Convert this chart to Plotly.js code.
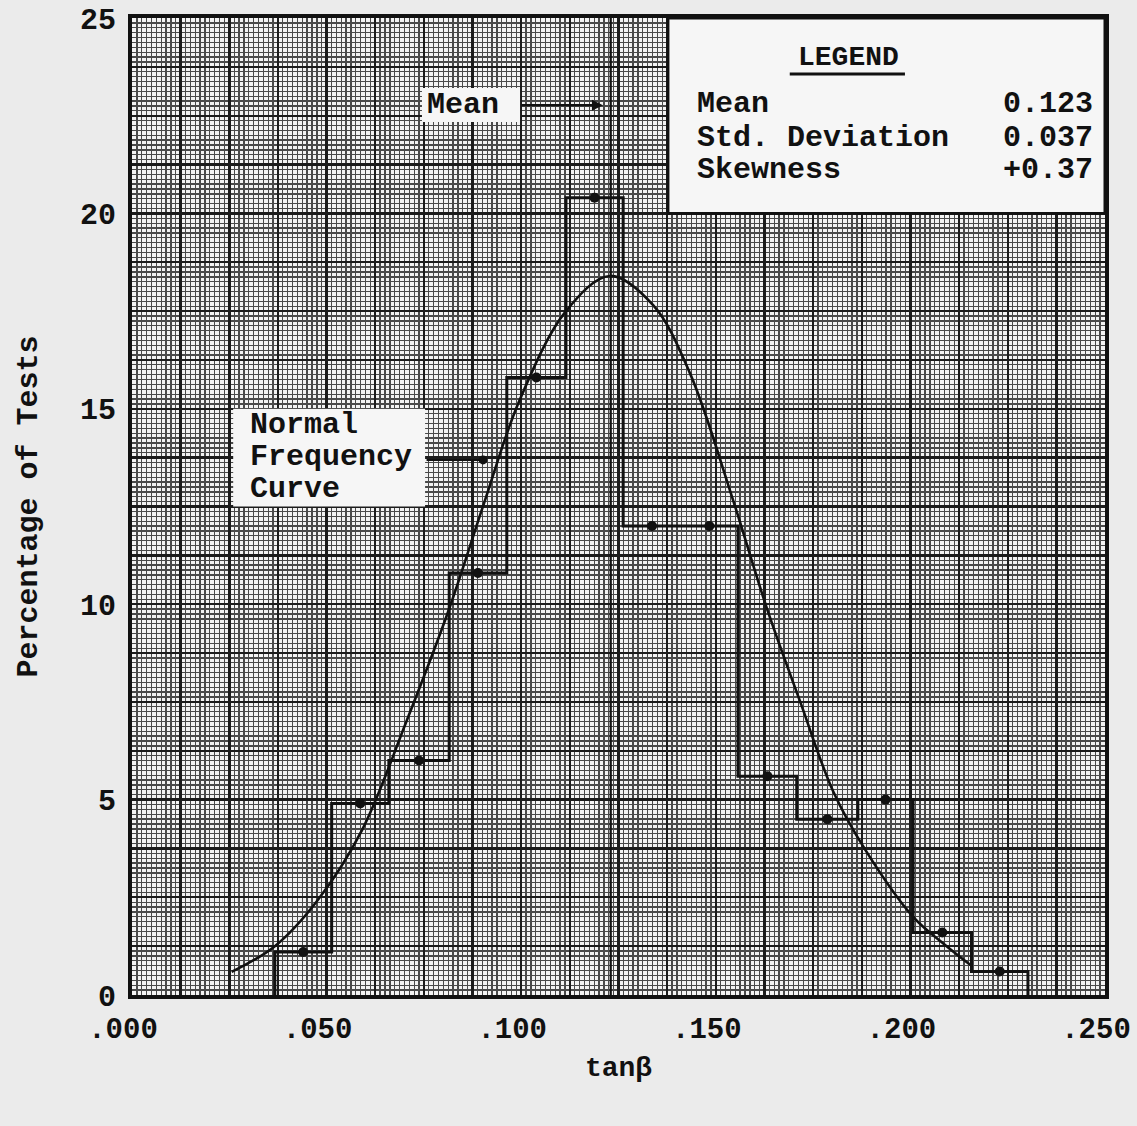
<!DOCTYPE html>
<html>
<head>
<meta charset="utf-8">
<script src="https://cdn.plot.ly/plotly-3.0.1.min.js"></script>
<style>
  html, body { margin: 0; padding: 0; background: #ebebeb; }
  #chart { width: 1137px; height: 1126px; }
</style>
</head>
<body>
<div id="chart"></div>
<script>
// ---- data ----
const binEdges = [0.0367, 0.0513, 0.066, 0.0815, 0.0963, 0.1115, 0.1262, 0.141, 0.1557, 0.1708, 0.1865, 0.2007, 0.2157, 0.2302];
const pctTests = [1.1, 4.9, 6.0, 10.8, 15.8, 20.4, 12.0, 12.0, 5.6, 4.5, 5.0, 1.6, 0.6];

const curveX = [0.0256, 0.0367, 0.0475, 0.059, 0.0705, 0.0812, 0.0905, 0.0995, 0.1115, 0.1228, 0.1339, 0.1434, 0.154, 0.1631, 0.1717, 0.1802, 0.1885, 0.2007, 0.2093, 0.2157];
const curveY = [0.59, 1.25, 2.4, 4.2, 7.0, 9.8, 12.6, 15.2, 17.5, 18.4, 17.65, 15.9, 12.8, 9.9, 7.5, 5.2, 3.7, 2.0, 1.25, 0.75];

const meanValue = 0.123;
const legendLabels = ["Mean", "Std. Deviation", "Skewness"];
const legendValues = ["0.123", "0.037", "+0.37"];
const curveLabelLines = ["Normal", "Frequency", "Curve"];

const xTickVals = [0, 0.05, 0.10, 0.15, 0.20, 0.25];
const xTickText = [".000", ".050", ".100", ".150", ".200", ".250"];
const yTickVals = [0, 5, 10, 15, 20, 25];
const yTickText = ["0", "5", "10", "15", "20", "25"];

// ---- build helpers ----
const FONT = "Liberation Mono, Courier New, monospace";
const INK = "#111";
const BOXFILL = "#f6f6f6";

// step outline of the histogram
const stepX = [binEdges[0]].concat(binEdges);
const stepY = [0].concat(pctTests, [0]);
// dots at bin centres
const midX = pctTests.map((v, i) => (binEdges[i] + binEdges[i + 1]) / 2);

// graph-paper grid: heavy lines every 1/20 of the range, fine lines every 1/200
function gridTicks(vals, texts, range) {
  const tv = [], tt = [], mv = [];
  for (let i = 0; i <= 200; i++) {
    const v = range * i / 200;
    if (i % 10 === 0) {
      tv.push(v);
      const k = vals.findIndex(u => Math.abs(u - v) < 1e-9);
      tt.push(k >= 0 ? texts[k] : "");
    } else {
      mv.push(v);
    }
  }
  return { tv, tt, mv };
}
const xg = gridTicks(xTickVals, xTickText, 0.25);
const yg = gridTicks(yTickVals, yTickText, 25);

const traces = [
  {
    x: [meanValue, meanValue], y: [0, 25], mode: "lines",
    line: { color: INK, width: 2.2 }, hoverinfo: "skip", showlegend: false
  },
  {
    x: stepX, y: stepY, mode: "lines",
    line: { color: INK, width: 3, shape: "hv" }, showlegend: false
  },
  {
    x: midX, y: pctTests, mode: "markers",
    marker: { color: INK, size: 10 }, showlegend: false
  },
  {
    x: curveX, y: curveY, mode: "lines",
    line: { color: INK, width: 2.6, shape: "spline", smoothing: 1 }, showlegend: false
  }
];

const textFont = { family: FONT, size: 30, color: INK, weight: 700 };
const annotations = [];
// legend box
annotations.push({
  x: 0.184, y: 24.0, xref: "x", yref: "y", text: "LEGEND", showarrow: false,
  font: { family: FONT, size: 28, color: INK, weight: 700 }
});
const legendRowY = [22.8, 21.93, 21.11];
legendLabels.forEach((lab, i) => {
  annotations.push({
    x: 0.1447, y: legendRowY[i], xref: "x", yref: "y", xanchor: "left", text: lab,
    showarrow: false, font: textFont
  });
  annotations.push({
    x: 0.2474, y: legendRowY[i], xref: "x", yref: "y", xanchor: "right", text: legendValues[i],
    showarrow: false, font: textFont
  });
});
// "Mean" label + pointer
annotations.push({
  x: 0.0752, y: 22.77, xref: "x", yref: "y", xanchor: "left", text: "Mean",
  showarrow: false, font: textFont
});
annotations.push({
  x: 0.121, y: 22.77, xref: "x", yref: "y",
  ax: 0.0997, ay: 22.77, axref: "x", ayref: "y", text: "",
  showarrow: true, arrowhead: 2, arrowsize: 1, arrowwidth: 2.2, arrowcolor: INK
});
// "Normal Frequency Curve" label + pointer
const curveLabelY = [14.59, 13.77, 12.95];
curveLabelLines.forEach((t, i) => {
  annotations.push({
    x: 0.0298, y: curveLabelY[i], xref: "x", yref: "y", xanchor: "left", text: t,
    showarrow: false, font: textFont
  });
});
annotations.push({
  x: 0.0902, y: 13.69, xref: "x", yref: "y",
  ax: 0.0753, ay: 13.69, axref: "x", ayref: "y", text: "",
  showarrow: true, arrowhead: 6, arrowsize: 1, arrowwidth: 2.2, arrowcolor: INK
});

const shapes = [
  {
    type: "rect", xref: "x", yref: "y", x0: 0.1377, x1: 0.25, y0: 20, y1: 25,
    fillcolor: BOXFILL, line: { color: INK, width: 3 }, layer: "above"
  },
  {
    type: "line", xref: "x", yref: "y", x0: 0.169, x1: 0.1986, y0: 23.57, y1: 23.57,
    line: { color: INK, width: 3 }, layer: "above"
  },
  {
    type: "rect", xref: "x", yref: "y", x0: 0.0745, x1: 0.0997, y0: 22.34, y1: 23.21,
    fillcolor: BOXFILL, line: { width: 0 }, layer: "above"
  },
  {
    type: "rect", xref: "x", yref: "y", x0: 0.026, x1: 0.0753, y0: 12.5, y1: 15.0,
    fillcolor: BOXFILL, line: { width: 0 }, layer: "above"
  }
];

const layout = {
  width: 1137, height: 1126,
  margin: { l: 132, r: 32, t: 18, b: 131 },
  paper_bgcolor: "#ebebeb",
  plot_bgcolor: "#f3f3f3",
  showlegend: false,
  font: { family: FONT, color: INK },
  xaxis: {
    range: [0, 0.25], tickmode: "array", tickvals: xg.tv, ticktext: xg.tt,
    showgrid: true, gridcolor: "#1c1c1c", gridwidth: 2.4, zeroline: false,
    showline: true, linecolor: INK, linewidth: 4, mirror: true,
    ticks: "", ticklabelstandoff: 4, ticklabeloverflow: "allow", ticklabelshift: -9,
    tickfont: { family: FONT, size: 29, color: INK, weight: 700 },
    minor: { tickmode: "array", tickvals: xg.mv, showgrid: true, gridcolor: "#4a4a4a", gridwidth: 1.3, ticks: "" },
    title: { text: "tanβ", standoff: 12, font: { family: FONT, size: 28, color: INK, weight: 700 } }
  },
  yaxis: {
    range: [0, 25], tickmode: "array", tickvals: yg.tv, ticktext: yg.tt,
    showgrid: true, gridcolor: "#1c1c1c", gridwidth: 2.4, zeroline: false,
    showline: true, linecolor: INK, linewidth: 4, mirror: true,
    ticks: "", ticklabelstandoff: 6,
    tickfont: { family: FONT, size: 30, color: INK, weight: 700 },
    minor: { tickmode: "array", tickvals: yg.mv, showgrid: true, gridcolor: "#4a4a4a", gridwidth: 1.3, ticks: "" },
    title: { text: "Percentage of Tests", standoff: 34, font: { family: FONT, size: 30, color: INK, weight: 700 } }
  },
  annotations: annotations,
  shapes: shapes
};

Plotly.newPlot("chart", traces, layout, { displayModeBar: false, staticPlot: true });
</script>
</body>
</html>
